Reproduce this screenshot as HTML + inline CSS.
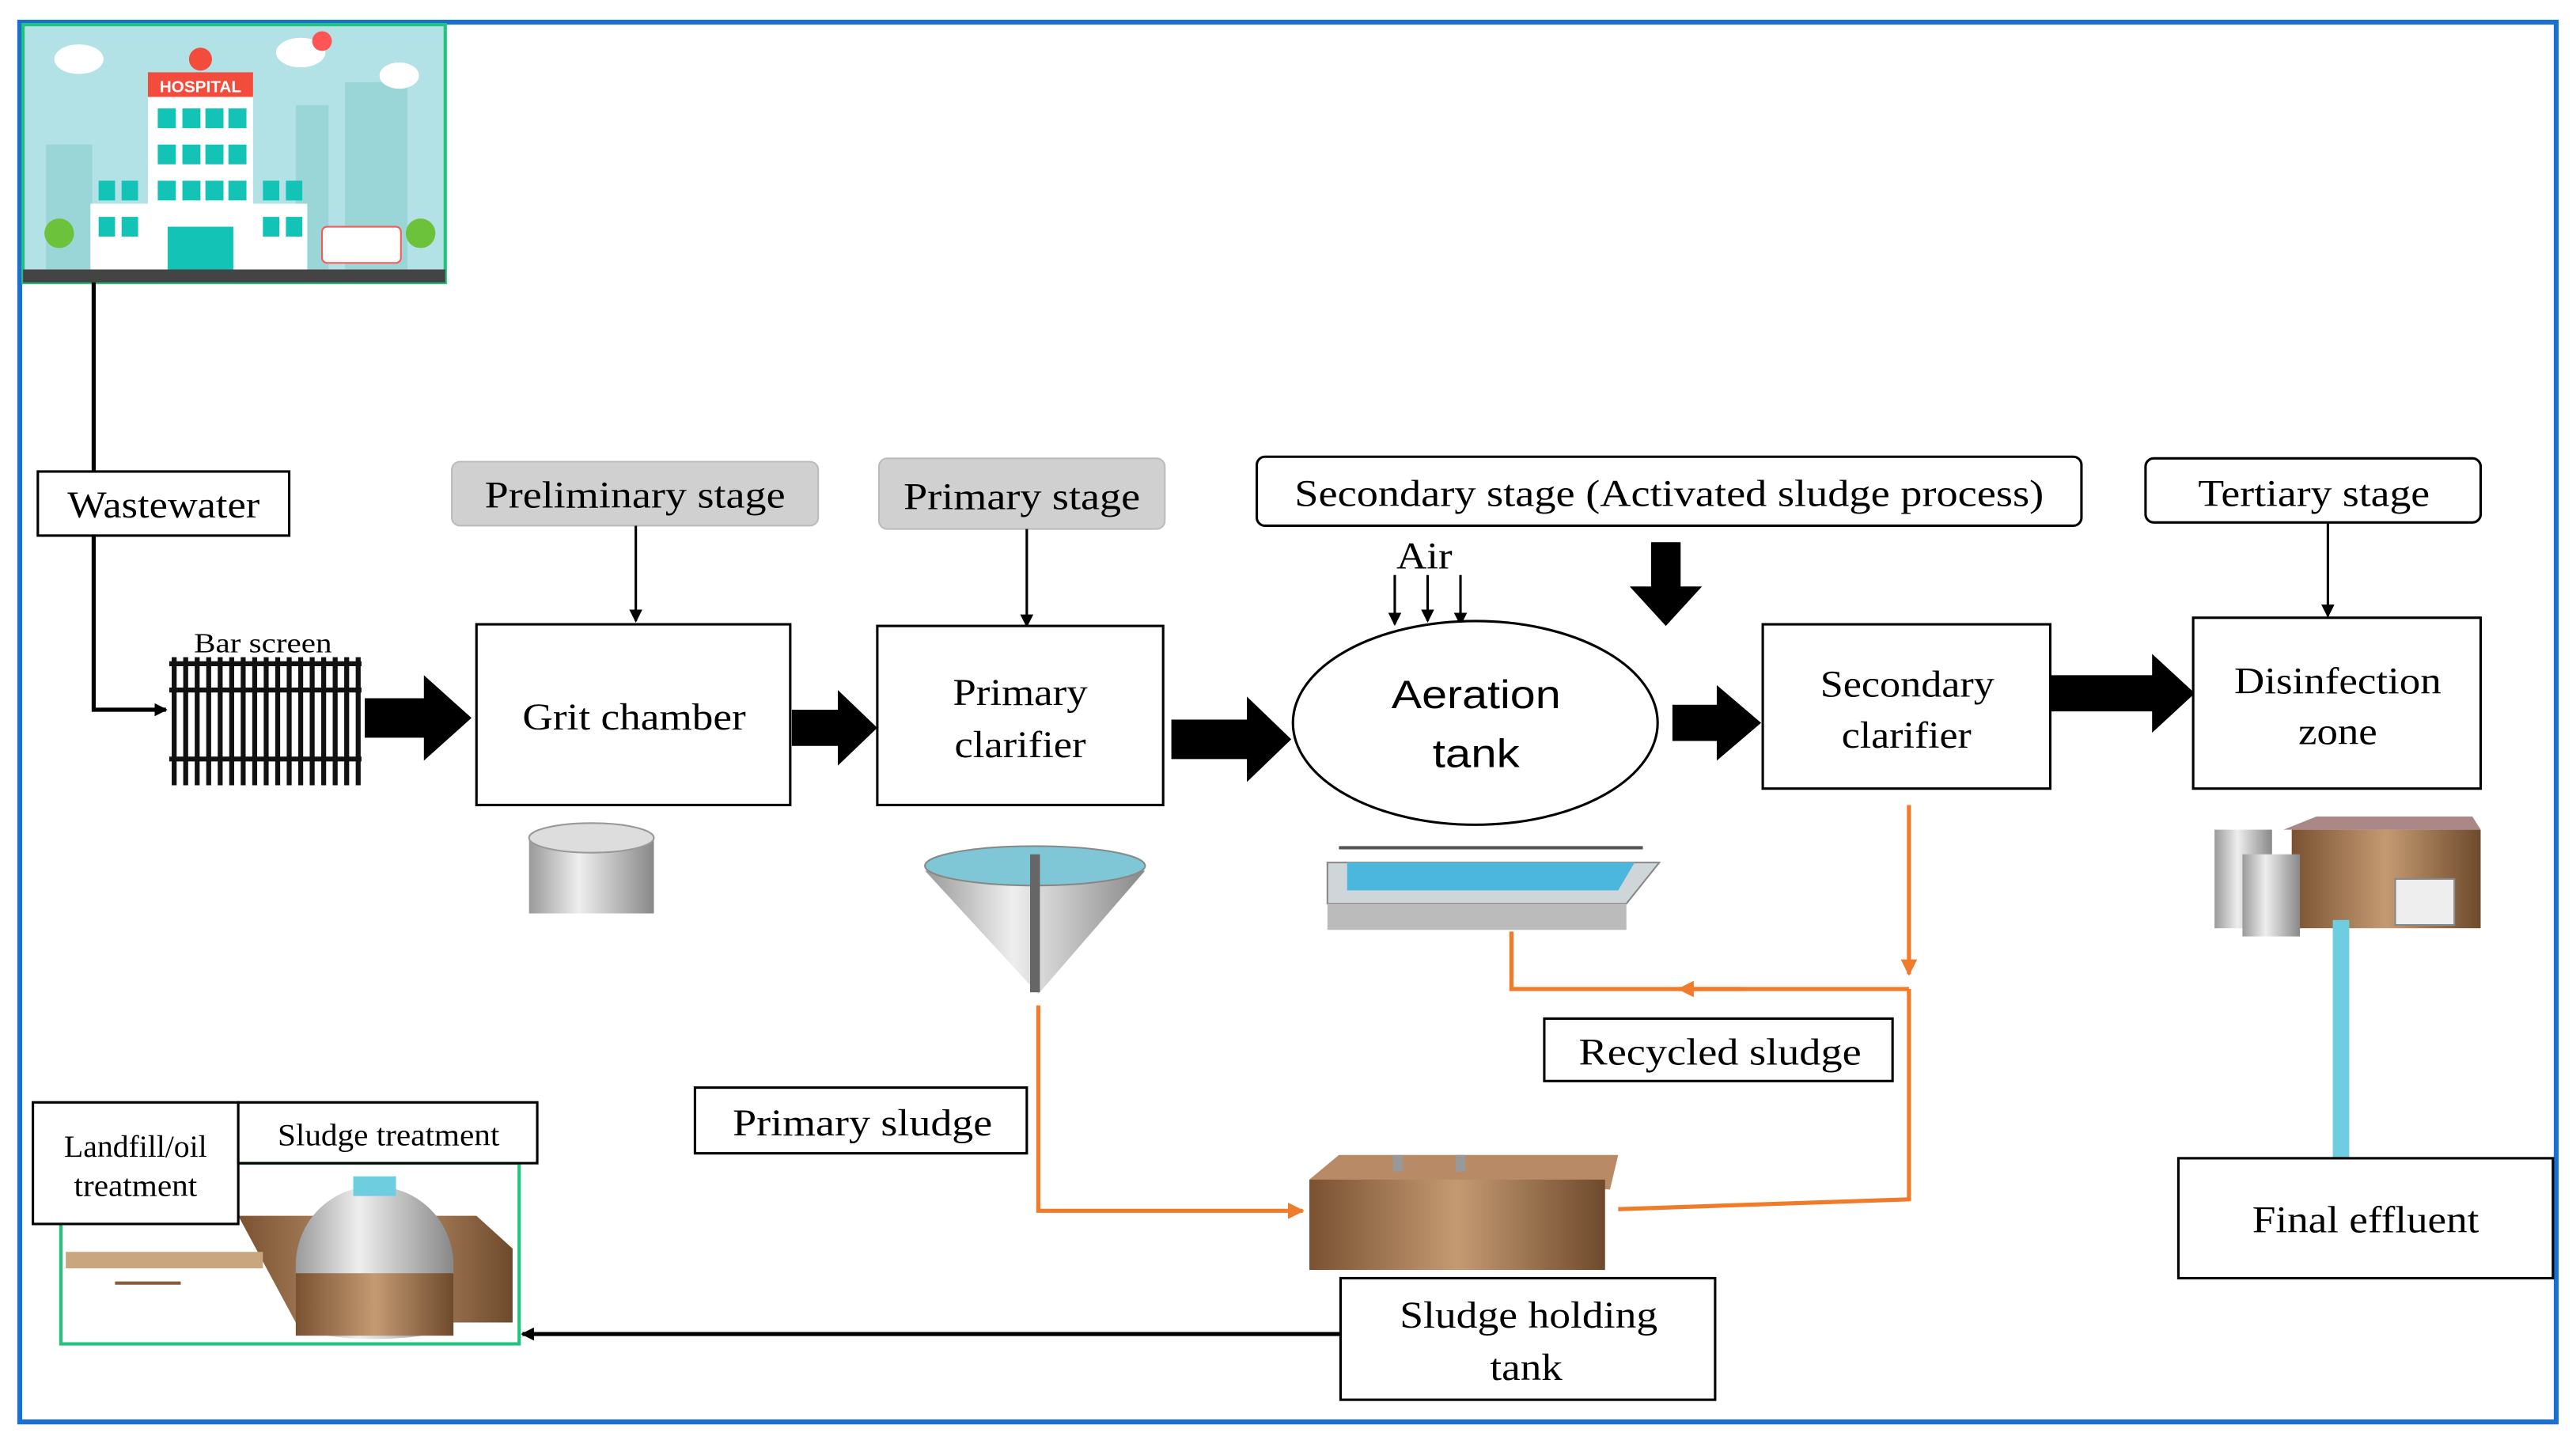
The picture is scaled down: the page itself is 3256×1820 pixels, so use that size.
<!DOCTYPE html>
<html><head><meta charset="utf-8"><style>
html,body{margin:0;padding:0;background:#fff;}
svg{display:block;}
text{font-family:"Liberation Serif",serif;fill:#000;}
</style></head><body>
<svg width="3256" height="1820" viewBox="0 0 1568 876.5" xmlns="http://www.w3.org/2000/svg">
<defs>
<marker id="ah" markerWidth="8" markerHeight="8" refX="7" refY="4" orient="auto" markerUnits="userSpaceOnUse"><path d="M0,0 L8,4 L0,8 z" fill="#000"/></marker>
<marker id="ao" markerWidth="10" markerHeight="10" refX="9" refY="5" orient="auto" markerUnits="userSpaceOnUse"><path d="M0,0 L10,5 L0,10 z" fill="#f07b2a"/></marker>
<linearGradient id="metal" x1="0" x2="1"><stop offset="0" stop-color="#9a9a9a"/><stop offset=".4" stop-color="#eee"/><stop offset="1" stop-color="#888"/></linearGradient>
<linearGradient id="brown" x1="0" x2="1"><stop offset="0" stop-color="#7a5232"/><stop offset=".5" stop-color="#c49a72"/><stop offset="1" stop-color="#6e4a2c"/></linearGradient>
</defs>
<rect x="12" y="13.5" width="1544" height="852" fill="none" stroke="#1b6fcf" stroke-width="3"/>
<!-- hospital -->
<rect x="14" y="15" width="257" height="157" fill="#b2e2e6" stroke="#22c47d" stroke-width="2"/>
<rect x="28" y="88" width="28" height="78" fill="#9ad6d8"/>
<rect x="180" y="64" width="20" height="100" fill="#9ad6d8"/>
<rect x="210" y="50" width="38" height="115" fill="#9ad6d8"/>
<ellipse cx="48" cy="36" rx="15" ry="9" fill="#fff"/><ellipse cx="183" cy="32" rx="15" ry="9" fill="#fff"/><ellipse cx="243" cy="46" rx="12" ry="8" fill="#fff"/>
<circle cx="196" cy="25" r="6" fill="#f55"/>
<rect x="55" y="124" width="132" height="42" fill="#fff"/>
<rect x="90" y="58" width="64" height="108" fill="#fff"/>
<rect x="90" y="44" width="64" height="15" fill="#f24c3c"/>
<text x="122" y="56" font-size="10" text-anchor="middle" style="font-family:'Liberation Sans',sans-serif;fill:#fff;font-weight:bold">HOSPITAL</text>
<circle cx="122" cy="36" r="7" fill="#f24c3c"/>
<g fill="#13c3b6">
<rect x="96" y="66" width="11" height="12"/><rect x="111" y="66" width="11" height="12"/><rect x="125" y="66" width="11" height="12"/><rect x="139" y="66" width="11" height="12"/>
<rect x="96" y="88" width="11" height="12"/><rect x="111" y="88" width="11" height="12"/><rect x="125" y="88" width="11" height="12"/><rect x="139" y="88" width="11" height="12"/>
<rect x="96" y="110" width="11" height="12"/><rect x="111" y="110" width="11" height="12"/><rect x="125" y="110" width="11" height="12"/><rect x="139" y="110" width="11" height="12"/>
<rect x="60" y="110" width="10" height="12"/><rect x="74" y="110" width="10" height="12"/><rect x="160" y="110" width="10" height="12"/><rect x="174" y="110" width="10" height="12"/>
<rect x="60" y="132" width="10" height="12"/><rect x="74" y="132" width="10" height="12"/><rect x="160" y="132" width="10" height="12"/><rect x="174" y="132" width="10" height="12"/>
<rect x="102" y="138" width="40" height="28"/></g>
<rect x="196" y="138" width="48" height="22" rx="3" fill="#fff" stroke="#f55"/>
<circle cx="36" cy="142" r="9" fill="#6cc23a"/><circle cx="256" cy="142" r="9" fill="#6cc23a"/>
<rect x="14" y="164" width="257" height="8" fill="#444"/>
<path d="M57,172 V287 M57,326 V432 H101" stroke="#000" stroke-width="2.5" fill="none" marker-end="url(#ah)"/>
<rect x="23" y="287" width="153" height="39" fill="#fff" stroke="#000" stroke-width="1.5"/>
<text x="41" y="315" font-size="23" textLength="117" lengthAdjust="spacingAndGlyphs">Wastewater</text>
<text x="118" y="397" font-size="17" textLength="84" lengthAdjust="spacingAndGlyphs">Bar screen</text>
<g stroke="#111" stroke-width="3">
<line x1="103" y1="404" x2="220" y2="404"/><line x1="103" y1="420" x2="220" y2="420"/><line x1="103" y1="462" x2="220" y2="462"/>
<path d="M106,400V478M113,400V478M120,400V478M127,400V478M134,400V478M141,400V478M148,400V478M155,400V478M162,400V478M169,400V478M176,400V478M183,400V478M190,400V478M197,400V478M204,400V478M211,400V478M218,400V478"/>
</g>
<g fill="#000">
<path d="M222,425 H258 V411 L287,437 L258,463 V449 H222 z"/>
<path d="M482,432 H510 V420 L534,443 L510,466 V454 H482 z"/>
<path d="M713,438 H759 V424 L786,450 L759,476 V462 H713 z"/>
<path d="M1018,429 H1045 V417 L1072,440 L1045,463 V451 H1018 z"/>
<path d="M1248,411 H1310 V398 L1336,422 L1310,446 V433 H1248 z"/>
<path d="M1005,330 H1023 V357 H1036 L1014,381 L992,357 H1005 z"/>
</g>
<rect x="275" y="281" width="223" height="39" rx="5" fill="#d0d0d0" stroke="#bbb"/>
<text x="295" y="309" font-size="23" textLength="183" lengthAdjust="spacingAndGlyphs">Preliminary stage</text>
<rect x="535" y="279" width="174" height="43" rx="5" fill="#d0d0d0" stroke="#bbb"/>
<text x="550" y="310" font-size="23" textLength="144" lengthAdjust="spacingAndGlyphs">Primary stage</text>
<rect x="765" y="278" width="502" height="42" rx="5" fill="#fff" stroke="#000" stroke-width="1.5"/>
<text x="788" y="308" font-size="23" textLength="456" lengthAdjust="spacingAndGlyphs">Secondary stage (Activated sludge process)</text>
<rect x="1306" y="279" width="204" height="39" rx="5" fill="#fff" stroke="#000" stroke-width="1.5"/>
<text x="1338" y="308" font-size="23" textLength="141" lengthAdjust="spacingAndGlyphs">Tertiary stage</text>
<g stroke="#000" stroke-width="1.5" marker-end="url(#ah)">
<line x1="387" y1="320" x2="387" y2="378"/><line x1="625" y1="322" x2="625" y2="381"/><line x1="1417" y1="318" x2="1417" y2="375"/>
<line x1="849" y1="350" x2="849" y2="380"/><line x1="869" y1="350" x2="869" y2="378"/><line x1="889" y1="350" x2="889" y2="380"/>
</g>
<text x="850" y="346" font-size="23" textLength="34" lengthAdjust="spacingAndGlyphs">Air</text>
<rect x="290" y="380" width="191" height="110" fill="#fff" stroke="#000" stroke-width="1.5"/>
<text x="318" y="444" font-size="23" textLength="136" lengthAdjust="spacingAndGlyphs">Grit chamber</text>
<rect x="534" y="381" width="174" height="109" fill="#fff" stroke="#000" stroke-width="1.5"/>
<text x="580" y="429" font-size="23" textLength="82" lengthAdjust="spacingAndGlyphs">Primary</text><text x="581" y="461" font-size="23" textLength="80" lengthAdjust="spacingAndGlyphs">clarifier</text>
<ellipse cx="898" cy="440" rx="111" ry="62" fill="#fff" stroke="#000" stroke-width="1.5"/>
<text x="847" y="431" font-size="24" textLength="103" lengthAdjust="spacingAndGlyphs" style="font-family:'Liberation Sans',sans-serif">Aeration</text>
<text x="872" y="467" font-size="24" textLength="53" lengthAdjust="spacingAndGlyphs" style="font-family:'Liberation Sans',sans-serif">tank</text>
<rect x="1073" y="380" width="175" height="100" fill="#fff" stroke="#000" stroke-width="1.5"/>
<text x="1108" y="424" font-size="23" textLength="106" lengthAdjust="spacingAndGlyphs">Secondary</text><text x="1121" y="455" font-size="23" textLength="79" lengthAdjust="spacingAndGlyphs">clarifier</text>
<rect x="1335" y="376" width="175" height="104" fill="#fff" stroke="#000" stroke-width="1.5"/>
<text x="1360" y="422" font-size="23" textLength="126" lengthAdjust="spacingAndGlyphs">Disinfection</text><text x="1399" y="453" font-size="23" textLength="48" lengthAdjust="spacingAndGlyphs">zone</text>
<rect x="322" y="510" width="76" height="46" fill="url(#metal)"/><ellipse cx="360" cy="510" rx="38" ry="9" fill="#ddd" stroke="#999"/>
<path d="M563,530 L697,530 L632,605 z" fill="url(#metal)"/><ellipse cx="630" cy="527" rx="67" ry="12" fill="#7fc7d6" stroke="#888"/>
<rect x="627" y="520" width="6" height="84" fill="#666"/>
<path d="M808,525 H1010 L990,550 H808 z" fill="#cfd6da" stroke="#888"/><path d="M820,525 H995 L985,542 H820 z" fill="#4cb7dc"/>
<rect x="808" y="550" width="182" height="16" fill="#bbb"/>
<path d="M815,516 H1000" stroke="#555" stroke-width="2"/>
<rect x="1395" y="505" width="115" height="60" fill="url(#brown)"/><path d="M1390,505 L1410,497 H1505 L1510,505 z" fill="#a88"/>
<rect x="1458" y="535" width="36" height="28" fill="#eee" stroke="#888"/>
<rect x="1348" y="505" width="35" height="60" fill="url(#metal)"/><rect x="1365" y="520" width="35" height="50" fill="url(#metal)"/>
<rect x="1420" y="560" width="10" height="145" fill="#6fcde0"/>
<g stroke="#f07b2a" stroke-width="2.5" fill="none">
<path d="M1162,490 V593" marker-end="url(#ao)"/>
<path d="M1162,602 H920 V567"/>
<path d="M1060,602 H1022" marker-end="url(#ao)"/>
<path d="M1162,602 V730 L985,736"/>
<path d="M632,612 V737 H793" marker-end="url(#ao)"/>
</g>
<rect x="940" y="620" width="212" height="38" fill="#fff" stroke="#000" stroke-width="1.5"/>
<text x="961" y="648" font-size="23" textLength="172" lengthAdjust="spacingAndGlyphs">Recycled sludge</text>
<rect x="423" y="662" width="202" height="40" fill="#fff" stroke="#000" stroke-width="1.5"/>
<text x="446" y="691" font-size="23" textLength="158" lengthAdjust="spacingAndGlyphs">Primary sludge</text>
<path d="M797,718 L815,703 H985 L980,724 z" fill="#b88a66"/>
<rect x="797" y="718" width="180" height="55" fill="url(#brown)"/>
<rect x="848" y="703" width="6" height="10" fill="#999"/><rect x="886" y="703" width="6" height="10" fill="#999"/>
<rect x="816" y="778" width="228" height="74" fill="#fff" stroke="#000" stroke-width="1.5"/>
<text x="852" y="808" font-size="23" textLength="157" lengthAdjust="spacingAndGlyphs">Sludge holding</text><text x="907" y="840" font-size="23" textLength="44" lengthAdjust="spacingAndGlyphs">tank</text>
<rect x="1326" y="705" width="228" height="73" fill="#fff" stroke="#000" stroke-width="1.5"/>
<text x="1371" y="750" font-size="23" textLength="138" lengthAdjust="spacingAndGlyphs">Final effluent</text>
<line x1="816" y1="812" x2="318" y2="812" stroke="#000" stroke-width="2.5" marker-end="url(#ah)"/>
<rect x="37" y="708" width="279" height="110" fill="#fff" stroke="#22c47d" stroke-width="2"/>
<path d="M145,740 H290 L312,760 V805 H180 z" fill="url(#brown)"/>
<rect x="40" y="762" width="120" height="10" fill="#c9a67e"/>
<path d="M70,781 H110" stroke="#8a5a3a" stroke-width="2"/>
<path d="M180,770 A48,48 0 0 1 276,770 V805 A48,10 0 0 1 180,805 z" fill="url(#metal)"/>
<rect x="180" y="775" width="96" height="38" fill="url(#brown)"/>
<rect x="215" y="716" width="26" height="12" fill="#6fcde0"/>
<rect x="20" y="671" width="125" height="74" fill="#fff" stroke="#000" stroke-width="1.5"/>
<text x="39" y="704" font-size="19" textLength="87" lengthAdjust="spacingAndGlyphs">Landfill/oil</text><text x="45" y="728" font-size="19" textLength="75" lengthAdjust="spacingAndGlyphs">treatment</text>
<rect x="145" y="671" width="182" height="37" fill="#fff" stroke="#000" stroke-width="1.5"/>
<text x="169" y="697" font-size="19" textLength="135" lengthAdjust="spacingAndGlyphs">Sludge treatment</text>
</svg>
</body></html>
